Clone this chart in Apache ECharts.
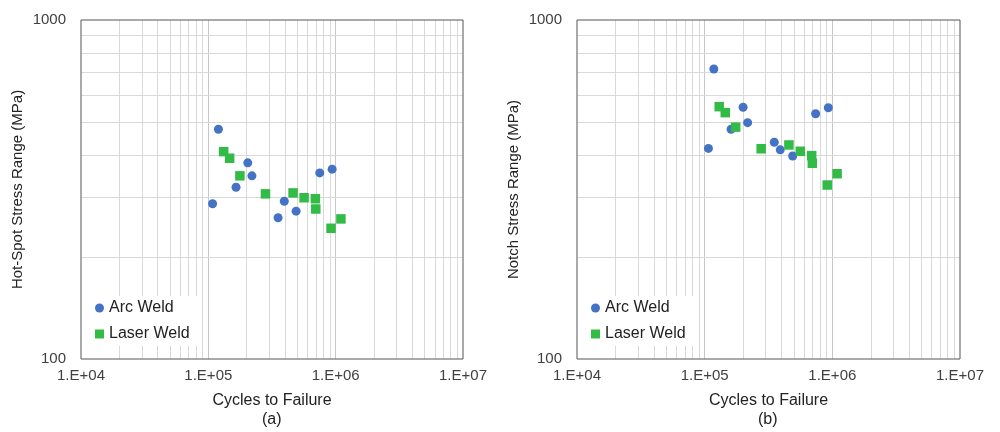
<!DOCTYPE html>
<html>
<head>
<meta charset="utf-8">
<script src="https://cdn.jsdelivr.net/npm/echarts@6/dist/echarts.min.js"></script>
<style>
  html, body { margin: 0; padding: 0; background: #fff; }
  #chart { width: 1000px; height: 432px; }
</style>
</head>
<body>
<div id="chart"></div>
<script>
  // (a) hot-spot stress
  const arcAX = [1.08e5, 1.20e5, 1.65e5, 2.04e5, 2.20e5, 3.53e5, 3.95e5, 4.89e5, 7.5e5, 9.38e5]
  const arcAY = [287, 476, 321, 379, 347, 261, 292, 273, 354, 363]
  const laserAX = [1.32e5, 1.47e5, 1.77e5, 2.81e5, 4.63e5, 5.65e5, 6.93e5, 6.98e5, 9.2e5, 1.10e6]
  const laserAY = [409, 391, 347, 307, 309, 299, 297, 277, 243, 259]

  // (b) notch stress
  const arcBX = [1.07e5, 1.18e5, 1.61e5, 2.0e5, 2.17e5, 3.51e5, 3.91e5, 4.89e5, 7.4e5, 9.3e5]
  const arcBY = [418, 717, 476, 553, 498, 436, 414, 397, 529, 551]
  const laserBX = [1.30e5, 1.45e5, 1.75e5, 2.77e5, 4.57e5, 5.61e5, 6.89e5, 6.97e5, 9.12e5, 1.09e6]
  const laserBY = [555, 533, 483, 417, 428, 410, 398, 378, 326, 352]

  // minor gridline positions
  const xMinor = [2e4, 3e4, 4e4, 5e4, 6e4, 7e4, 8e4, 9e4,
                  2e5, 3e5, 4e5, 5e5, 6e5, 7e5, 8e5, 9e5,
                  2e6, 3e6, 4e6, 5e6, 6e6, 7e6, 8e6, 9e6]
  const yMinor = [200, 300, 400, 500, 600, 700, 800, 900]

  const BLUE = '#4472c4'
  const GREEN = '#33bb47'
  const GRID = '#d9d9d9'

  const pairs = (xs, ys) => xs.map((x, i) => [x, ys[i]])

  const xLabel = v => '1.E+' + String(Math.round(Math.log10(v))).padStart(2, '0')

  const makeX = idx => ({
    type: 'log', gridIndex: idx, logBase: 10, min: 1e4, max: 1e7,
    name: 'Cycles to Failure', nameLocation: 'middle', nameGap: 34,
    nameTextStyle: { fontSize: 16, color: '#222', fontFamily: 'Liberation Sans' },
    axisLine: { show: false },
    axisTick: { show: false },
    axisLabel: { formatter: xLabel, fontSize: 15, color: '#404040', margin: 9, fontFamily: 'Liberation Sans' },
    splitLine: { show: true, showMinLine: false, showMaxLine: false, lineStyle: { color: '#c8c8c8', width: 1 } }
  })

  const makeY = (idx, title) => ({
    type: 'log', gridIndex: idx, logBase: 10, min: 100, max: 1000,
    name: title, nameLocation: 'middle', nameGap: 56,
    nameTextStyle: { fontSize: 15, color: '#222', fontFamily: 'Liberation Sans' },
    axisLine: { show: false },
    axisTick: { show: false },
    axisLabel: { formatter: v => String(Math.round(v)), fontSize: 15, color: '#404040', margin: 15, fontFamily: 'Liberation Sans' },
    splitLine: { show: false }
  })

  const gridSeries = idx => ({
    type: 'scatter', name: 'grid' + idx, xAxisIndex: idx, yAxisIndex: idx,
    data: [], z: 1, silent: true,
    markLine: {
      silent: true, symbol: 'none', animation: false, z: 1,
      label: { show: false },
      emphasis: { disabled: true },
      lineStyle: { color: GRID, type: 'solid', width: 1 },
      data: xMinor.map(v => ({ xAxis: v })).concat(yMinor.map(v => ({ yAxis: v })))
    }
  })

  const dots = (idx, name, data, shape, color) => ({
    type: 'scatter', name: name, xAxisIndex: idx, yAxisIndex: idx,
    data: data, symbol: shape, symbolSize: shape === 'circle' ? 9 : 9.5,
    itemStyle: { color: color, opacity: 1 }, z: 3
  })

  const legend = left => ({
    data: [
      { name: 'Arc Weld', icon: 'circle' },
      { name: 'Laser Weld', icon: 'rect' }
    ],
    orient: 'vertical', left: left, top: 296, itemGap: 10, z: 4,
    itemWidth: 9, itemHeight: 9, backgroundColor: '#fff',
    padding: [4, 8, 4, 8],
    textStyle: { fontSize: 16, color: '#222', fontFamily: 'Liberation Sans' }
  })

  const chart = echarts.init(document.getElementById('chart'))
  chart.setOption({
    animation: false,
    textStyle: { fontFamily: 'Liberation Sans' },
    grid: [
      { left: 81, top: 20, width: 382, height: 339, show: true, borderColor: '#555', borderWidth: 1, z: 5 },
      { left: 577, top: 20, width: 383, height: 339, show: true, borderColor: '#555', borderWidth: 1, z: 5 }
    ],
    xAxis: [makeX(0), makeX(1)],
    yAxis: [makeY(0, 'Hot-Spot Stress Range (MPa)'), makeY(1, 'Notch Stress Range (MPa)')],
    legend: [legend(87), legend(583)],
    graphic: [
      { type: 'text', left: 262, top: 412, style: { text: '(a)', fontSize: 16, fill: '#222', fontFamily: 'Liberation Sans' } },
      { type: 'text', left: 758, top: 412, style: { text: '(b)', fontSize: 16, fill: '#222', fontFamily: 'Liberation Sans' } }
    ],
    series: [
      gridSeries(0),
      gridSeries(1),
      dots(0, 'Arc Weld', pairs(arcAX, arcAY), 'circle', BLUE),
      dots(0, 'Laser Weld', pairs(laserAX, laserAY), 'rect', GREEN),
      dots(1, 'Arc Weld', pairs(arcBX, arcBY), 'circle', BLUE),
      dots(1, 'Laser Weld', pairs(laserBX, laserBY), 'rect', GREEN)
    ]
  })
</script>
</body>
</html>
